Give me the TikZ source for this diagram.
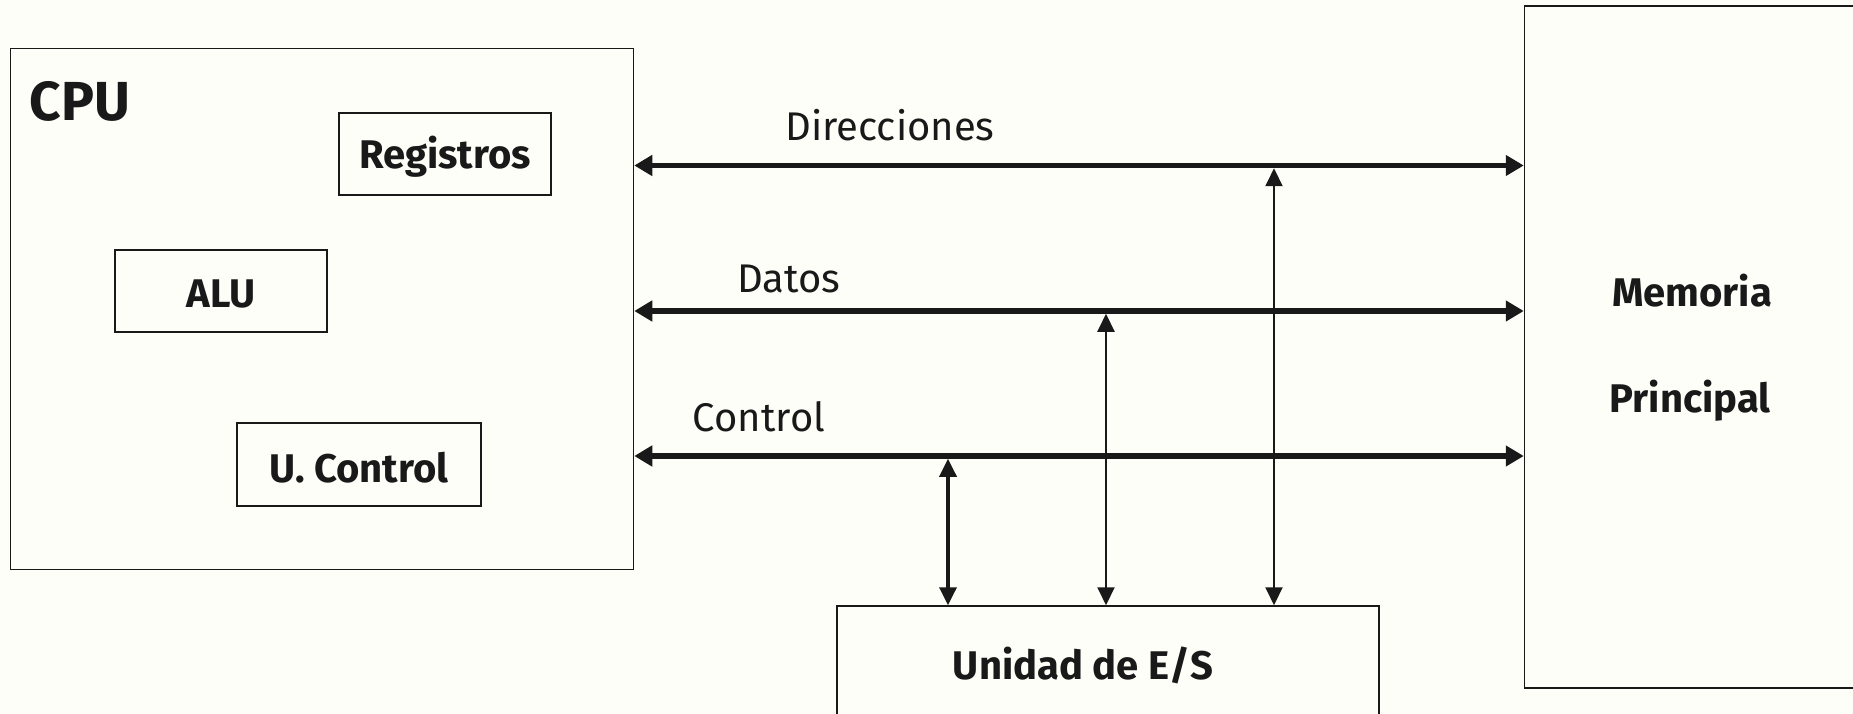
\documentclass[tikz,border=0pt]{standalone}
\usepackage{fontspec}
\setmainfont{Fira Sans}
\usetikzlibrary{arrows.meta}
\definecolor{bg}{RGB}{253,254,248}
\definecolor{ink}{RGB}{25,25,25}
\begin{document}
\begin{tikzpicture}[x=1pt,y=-1pt,
  box/.style={draw=ink, line width=1.5pt, inner sep=0pt},
  lbl/.style={font=\fontsize{40}{44}\selectfont\bfseries, text=ink, inner sep=0pt},
  buslbl/.style={font=\fontsize{40}{44}\selectfont, text=ink, inner sep=0pt},
  bus/.style={draw=ink, line width=5.5pt, {Triangle[length=18pt,width=20pt]}-{Triangle[length=18pt,width=20pt]}},
  tap/.style={draw=ink, line width=2pt, {Triangle[length=18pt,width=17pt]}-{Triangle[length=18pt,width=17pt]}},
  taptk/.style={tap, line width=3.5pt}
]
\fill[bg] (0,0) rectangle (1853,714);
\useasboundingbox (0,0) rectangle (1853,714);
\begin{scope}
\clip (0,0) rectangle (1853,714);
% boxes
\node[box, minimum width=623pt, minimum height=521pt] (cpu) at (322,309) {};
\node[box, minimum width=212pt, minimum height=82pt] (reg) at (445,154) {};
\node[box, minimum width=212pt, minimum height=82pt] (alu) at (221,291) {};
\node[box, minimum width=244pt, minimum height=83pt] (uc) at (359,464.5) {};
\node[box, minimum width=375pt, minimum height=682pt] (mem) at (1712,347) {};
\node[box, minimum width=542pt, minimum height=174pt] (es) at (1108,693) {};
% texts
\node[lbl, font=\fontsize{55}{60}\selectfont\bfseries] (cpul) at (80,101) {CPU};
\node[lbl] (regl) at (445,157) {Registros};
\node[lbl] (alul) at (221,294) {ALU};
\node[lbl] (ucl) at (359,468) {U. Control};
\node[lbl] (meml) at (1692,291) {Memoria};
\node[lbl] (prl) at (1690,401) {Principal};
\node[lbl] (esl) at (1083,665) {Unidad de E/S};
\node[buslbl] (dirl) at (890,125) {Direcciones};
\node[buslbl] (datl) at (789,279) {Datos};
\node[buslbl] (ctll) at (759,417) {Control};
% bus levels
\coordinate (yA) at (0,165.5);
\coordinate (yD) at (0,311);
\coordinate (yC) at (0,456);
\coordinate (xC) at (948,0);
\coordinate (xD) at (1106,0);
\coordinate (xA) at (1274,0);
% buses
\draw[bus] (cpu.east |- yA) -- (mem.west |- yA);
\draw[bus] (cpu.east |- yD) -- (mem.west |- yD);
\draw[bus] (cpu.east |- yC) -- (mem.west |- yC);
% taps
\draw[taptk] (es.north -| xC) -- ([yshift=-2.75pt]xC |- yC);
\draw[tap] (es.north -| xD) -- ([yshift=-2.75pt]xD |- yD);
\draw[tap] (es.north -| xA) -- ([yshift=-2.75pt]xA |- yA);
\end{scope}
\end{tikzpicture}
\end{document}
